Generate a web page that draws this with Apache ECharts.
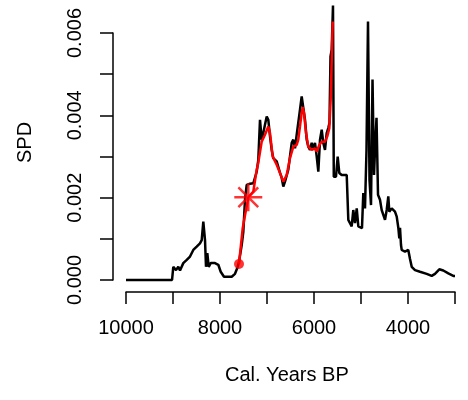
<!DOCTYPE html>
<html>
<head>
<meta charset="utf-8">
<script src="https://cdn.jsdelivr.net/npm/echarts@6/dist/echarts.min.js"></script>
<style>
html,body{margin:0;padding:0;background:#fff;}
#chart{width:468px;height:400px;}
</style>
</head>
<body>
<div id="chart"></div>
<script>
// Black SPD curve (cal. years BP, SPD value)
var spdYears = [10000,9020,8994,8936,8887,8851,8781,8708,8638,8568,8496,8426,8389,8355,8334,8319,8298,8270,8240,8198,8106,8036,7985,7915,7751,7681,7632,7596,7538,7504,7468,7432,7362,7291,7255,7219,7185,7149,7113,7079,7043,7006,6972,6936,6900,6866,6794,6723,6687,6653,6617,6547,6511,6474,6440,6404,6368,6334,6298,6262,6228,6191,6155,6121,6085,6049,6015,5979,5942,5908,5872,5836,5802,5766,5730,5696,5670,5649,5623,5596,5579,5532,5496,5462,5411,5304,5270,5198,5164,5128,5091,5057,4979,4951,4915,4883,4851,4819,4787,4755,4723,4702,4670,4638,4596,4560,4525,4489,4453,4419,4398,4347,4277,4240,4206,4185,4170,4149,4134,4064,3994,3957,3921,3851,3745,3602,3496,3426,3334,3249,3142,3036,3000];
var spdValues = [0,0,0.00032,0.00024,0.00032,0.00023,0.00041,0.00049,0.00057,0.00073,0.00081,0.00089,0.00097,0.00142,0.00146,0.00097,0.00032,0.00065,0.00032,0.00041,0.00041,0.00037,0.00020,0.00008,0.00008,0.00015,0.00029,0.00044,0.00085,0.00117,0.00195,0.00231,0.00234,0.00235,0.00239,0.00263,0.00292,0.00389,0.00341,0.00357,0.00377,0.00397,0.00389,0.00349,0.00316,0.00296,0.00288,0.00260,0.00248,0.00227,0.00239,0.00268,0.00300,0.00333,0.00341,0.00320,0.00353,0.00349,0.00414,0.00446,0.00442,0.00389,0.00341,0.00324,0.00316,0.00333,0.00320,0.00333,0.00300,0.00263,0.00341,0.00365,0.00333,0.00316,0.00357,0.00369,0.00382,0.00543,0.00560,0.00667,0.00251,0.00251,0.00300,0.00260,0.00255,0.00255,0.00146,0.00130,0.00170,0.00138,0.00174,0.00130,0.00126,0.00211,0.00174,0.00316,0.00628,0.00243,0.00182,0.00487,0.00255,0.00316,0.00394,0.00207,0.00195,0.00170,0.00174,0.00146,0.00170,0.00203,0.00166,0.00174,0.00166,0.00154,0.00127,0.00101,0.00127,0.00085,0.00073,0.00069,0.00073,0.00051,0.00032,0.00024,0.00020,0.00015,0.00010,0.00015,0.00026,0.00023,0.00016,0.00010,0.00010];

// Red fitted curve
var fitYears = [7596,7517,7398,7291,7219,7185,7113,7043,6972,6936,6879,6794,6723,6653,6581,6511,6440,6368,6334,6298,6262,6240,6213,6170,6121,6049,5979,5942,5887,5836,5766,5717,5674,5645,5623,5602];
var fitValues = [0.00039,0.00126,0.00201,0.00215,0.00268,0.00285,0.00336,0.00353,0.00373,0.00357,0.00300,0.00280,0.00260,0.00239,0.00255,0.00296,0.00324,0.00328,0.00341,0.00373,0.00406,0.00420,0.00406,0.00357,0.00324,0.00316,0.00320,0.00312,0.00328,0.00336,0.00336,0.00349,0.00369,0.00438,0.00535,0.00628];

// Markers
var dotPoint = [7596, 0.00039];
var starPoint = [7398, 0.00201];

// Tick labels
var xTickLabels = ['10000','8000','6000','4000'];
var yTickLabels = ['0.000','0.002','0.004','0.006'];

var FONT = '"Liberation Sans", Arial, Helvetica, sans-serif';

function zip(a, b) { return a.map(function (v, i) { return [v, b[i]]; }); }

var chart = echarts.init(document.getElementById('chart'), null, {renderer: 'canvas'});
chart.setOption({
  animation: false,
  backgroundColor: '#fff',
  grid: {left: 126, right: 13, top: 33, bottom: 120, containLabel: false},
  xAxis: {
    type: 'value', min: 3000, max: 10000, interval: 1000, inverse: true,
    offset: 12,
    axisLine: {show: true, onZero: false, lineStyle: {color: '#000', width: 1.5}},
    axisTick: {show: true, length: 12, lineStyle: {color: '#000', width: 1.5}},
    splitLine: {show: false},
    axisLabel: {
      margin: 26, color: '#000', fontSize: 20, fontFamily: FONT,
      showMinLabel: true, showMaxLabel: true,
      formatter: function (v) { var s = String(Math.round(v)); return xTickLabels.indexOf(s) >= 0 ? s : ''; }
    }
  },
  yAxis: {
    type: 'value', min: 0, max: 0.006, interval: 0.001,
    offset: 13,
    axisLine: {show: true, onZero: false, lineStyle: {color: '#000', width: 1.5}},
    axisTick: {show: true, length: 13, lineStyle: {color: '#000', width: 1.5}},
    splitLine: {show: false},
    axisLabel: {
      margin: 28, rotate: 90, color: '#000', fontSize: 20, fontFamily: FONT,
      formatter: function (v) { var s = v.toFixed(3); return yTickLabels.indexOf(s) >= 0 ? s : ''; }
    }
  },
  graphic: [
    {type: 'text', top: 365, left: 225, style: {text: 'Cal. Years BP', fill: '#000', font: '20px ' + FONT}},
    {type: 'text', rotation: Math.PI / 2, x: 15, y: 163, style: {text: 'SPD', fill: '#000', font: '20px ' + FONT, textAlign: 'left', textVerticalAlign: 'top'}}
  ],
  series: [
    {
      type: 'line', data: zip(spdYears, spdValues), symbol: 'none', clip: false,
      lineStyle: {color: '#000', width: 2.5}, z: 2
    },
    {
      type: 'line', data: zip(fitYears, fitValues), symbol: 'none', clip: false,
      lineStyle: {color: '#ff0000', width: 2.5}, z: 3
    },
    {
      type: 'scatter', data: [dotPoint], symbol: 'circle', symbolSize: 10,
      itemStyle: {color: '#ff0000'}, z: 4
    },
    {
      type: 'scatter', data: [starPoint],
      symbol: 'path://M10,0L10,20M0,10L20,10M2.93,2.93L17.07,17.07M2.93,17.07L17.07,2.93',
      symbolSize: 28,
      itemStyle: {color: 'none', borderColor: '#ff0000', borderWidth: 2.5}, z: 4
    }
  ]
});
</script>
</body>
</html>
